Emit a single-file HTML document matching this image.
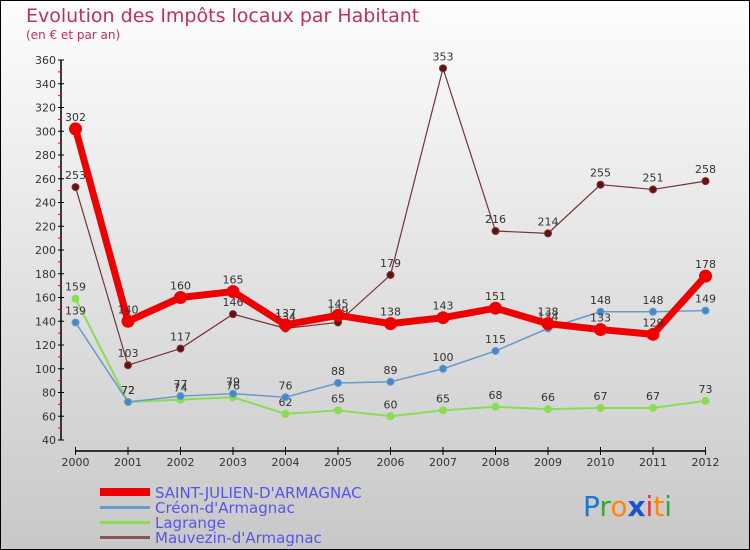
<!DOCTYPE html>
<html><head><meta charset="utf-8"><style>
body{margin:0}
#c{width:750px;height:550px;position:relative;overflow:hidden;font-family:"DejaVu Sans","Liberation Sans",sans-serif}
</style></head><body>
<div id="c">
<svg id="s" width="750" height="550" xmlns="http://www.w3.org/2000/svg">
<defs><linearGradient id="bg" x1="0" y1="0" x2="0" y2="1"><stop offset="0" stop-color="#fdfdfd"/><stop offset="1" stop-color="#c8c8c8"/></linearGradient></defs>
<rect x="0.5" y="0.5" width="749" height="549" fill="url(#bg)" stroke="#000"/>
<text x="26" y="22" font-size="19" fill="#c0305a">Evolution des Impôts locaux par Habitant</text>
<text x="26" y="39" font-size="12" fill="#c0305a">(en € et par an)</text>
<g id="axes"></g><g id="series"></g>
<g>
<rect x="100" y="488" width="50" height="8" fill="#ee0000"/>
<text x="155" y="498" font-size="15" fill="#5555ee">SAINT-JULIEN-D'ARMAGNAC</text>
<rect x="100" y="506" width="50" height="3" fill="#6699cc"/>
<text x="155" y="513" font-size="15" fill="#5555ee">Créon-d'Armagnac</text>
<rect x="100" y="521" width="50" height="3" fill="#88dd55"/>
<text x="155" y="528" font-size="15" fill="#5555ee">Lagrange</text>
<rect x="100" y="536" width="50" height="3" fill="#885555"/>
<text x="155" y="543" font-size="15" fill="#5555ee">Mauvezin-d'Armagnac</text>
</g>
<g font-size="28" font-family="DejaVu Sans,sans-serif">
<text x="583" y="516"><tspan fill="#1a77cc">P</tspan><tspan fill="#33aa33">r</tspan><tspan fill="#ff8800">o</tspan><tspan fill="#1a55cc" font-weight="bold">x</tspan><tspan fill="#ee3333">i</tspan><tspan fill="#ff8800">t</tspan><tspan fill="#33aa33">i</tspan></text>
</g>
</svg>
</div>
<script>
const years=[2000,2001,2002,2003,2004,2005,2006,2007,2008,2009,2010,2011,2012];
const yTicks=[40,60,80,100,120,140,160,180,200,220,240,260,280,300,320,340,360];
const saint=[302,140,160,165,137,145,138,143,151,138,133,129,178];
const creon=[139,72,77,79,76,88,89,100,115,134,148,148,149];
const lagrange=[159,72,74,76,62,65,60,65,68,66,67,67,73];
const mauvezin=[253,103,117,146,134,139,179,353,216,214,255,251,258];
const NS="http://www.w3.org/2000/svg";
const X=i=>75.5+i*(705.5-75.5)/(years.length-1);
const Y=v=>440-(v-40)*380/320;
function mk(t,a,p){const e=document.createElementNS(NS,t);for(const k in a)e.setAttribute(k,a[k]);p.appendChild(e);return e;}
const ax=document.getElementById('axes');
let l=mk('line',{x1:61,y1:Y(360),x2:61,y2:440,stroke:'#000','stroke-width':1.5},ax);


l=mk('line',{x1:75,y1:451,x2:706,y2:451,stroke:'#000','stroke-width':1.5},ax);


yTicks.forEach((v,i)=>{
 mk('line',{x1:58,y1:Y(v),x2:64,y2:Y(v),stroke:'#000'},ax);
 if(i<yTicks.length-1) mk('line',{x1:58,y1:Y(v+10),x2:61,y2:Y(v+10),stroke:'#e00'},ax);
 const t=mk('text',{x:56,y:Y(v)+4,'font-size':11,'text-anchor':'end',fill:'#333'},ax);
 t.textContent=v;
 
 
});
years.forEach((y,i)=>{
 mk('line',{x1:X(i),y1:447,x2:X(i),y2:455,stroke:'#000'},ax);
 const t=mk('text',{x:X(i),y:466,'font-size':11,'text-anchor':'middle',fill:'#333'},ax);
 t.textContent=y;
 
 
});
const sg=document.getElementById('series');
function draw(name,data,color,w,r,dot){
 const g=mk('g',{},sg);
 
 
 mk('polyline',{points:data.map((v,i)=>X(i)+','+Y(v)).join(' '),fill:'none',stroke:color,'stroke-width':w,'stroke-linejoin':'round'},g);
 data.forEach((v,i)=>{
  const c=mk('circle',{cx:X(i),cy:Y(v),r:r,fill:dot,stroke:color,'stroke-width':1},g);
  
  
  const t=mk('text',{x:X(i),y:Y(v)-8,'font-size':11,'text-anchor':'middle',fill:'#333'},g);
  t.textContent=v;
 });
}
draw('lagrange',lagrange,'#88dd55',2,3.5,'#88dd55');
draw('creon',creon,'#6699cc',1.5,3.5,'#4488cc');
draw('mauvezin',mauvezin,'#773333',1.2,3.5,'#661111');
draw('saint-julien',saint,'#ee0000',7,6,'#ee0000');
</script>
</body></html>
